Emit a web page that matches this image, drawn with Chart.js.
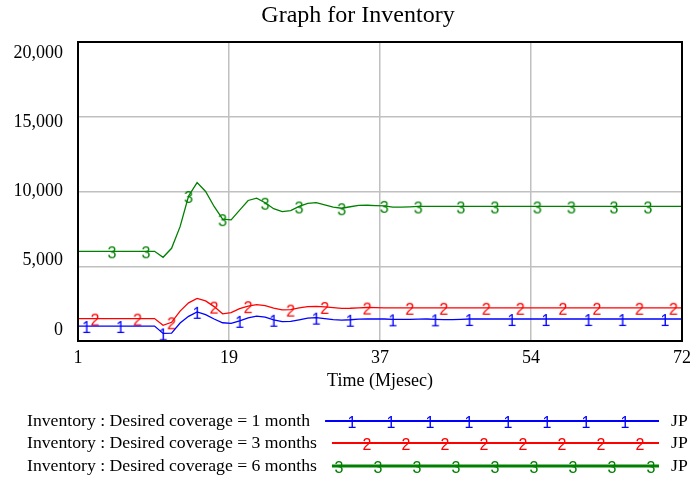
<!DOCTYPE html>
<html>
<head>
<meta charset="utf-8">
<script src="https://cdn.jsdelivr.net/npm/chart.js@4.4.1/dist/chart.umd.min.js"></script>
<style>
  html, body { margin: 0; padding: 0; background: #ffffff; }
  canvas { display: block; }
</style>
</head>
<body>
<canvas id="chart" width="697" height="481"></canvas>
<script>
// Simulation time (months)
const months = [
  1, 2, 3, 4, 5, 6, 7, 8, 9, 10, 11, 12, 13, 14, 15, 16, 17, 18,
  19, 20, 21, 22, 23, 24, 25, 26, 27, 28, 29, 30, 31, 32, 33, 34, 35, 36,
  37, 38, 39, 40, 41, 42, 43, 44, 45, 46, 47, 48, 49, 50, 51, 52, 53, 54,
  55, 56, 57, 58, 59, 60, 61, 62, 63, 64, 65, 66, 67, 68, 69, 70, 71, 72
];

// Inventory, desired coverage = 1 month
const inventory1 = [
  1000, 1000, 1000, 1000, 1000, 1000, 1000, 1000, 1000, 1000,
  510, 530, 1200, 1650, 1950, 1760, 1470, 1220, 1180, 1350,
  1550, 1660, 1590, 1420, 1300, 1310, 1420, 1530, 1560, 1500,
  1430, 1400, 1420, 1460, 1480, 1470, 1470, 1450, 1440, 1450,
  1460, 1470, 1450, 1430, 1430, 1450, 1470, 1470, 1470, 1470,
  1470, 1470, 1470, 1470, 1470, 1470, 1470, 1470, 1470, 1470,
  1470, 1470, 1470, 1470, 1470, 1470, 1470, 1470, 1470, 1470,
  1470, 1470
];

// Inventory, desired coverage = 3 months
const inventory3 = [
  1500, 1500, 1500, 1500, 1500, 1500, 1500, 1500, 1500, 1500,
  1050, 1250, 2000, 2550, 2850, 2680, 2300, 1820, 1900, 2170,
  2330, 2430, 2360, 2200, 2080, 2100, 2220, 2300, 2310, 2280,
  2230, 2180, 2190, 2220, 2240, 2230, 2220, 2220, 2220, 2220,
  2220, 2220, 2220, 2220, 2220, 2220, 2220, 2220, 2220, 2220,
  2220, 2220, 2220, 2220, 2220, 2220, 2220, 2220, 2220, 2220,
  2220, 2220, 2220, 2220, 2220, 2220, 2220, 2220, 2220, 2220,
  2220, 2220
];

// Inventory, desired coverage = 6 months
const inventory6 = [
  6000, 6000, 6000, 6000, 6000, 6000, 6000, 6000, 6000, 6000,
  5600, 6200, 7650, 9700, 10600, 10000, 9000, 8150, 8100, 8750,
  9400, 9550, 9250, 8850, 8650, 8720, 9000, 9200, 9250, 9100,
  8950, 8880, 8980, 9070, 9080, 9060, 9040, 8960, 8950, 8970,
  9000, 9000, 9000, 9000, 9000, 9000, 9000, 9000, 9000, 9000,
  9000, 9000, 9000, 9000, 9000, 9000, 9000, 9000, 9000, 9000,
  9000, 9000, 9000, 9000, 9000, 9000, 9000, 9000, 9000, 9000,
  9000, 9000
];

// Months at which each run carries its number marker
const marks1 = [2, 6, 11, 15, 20, 24, 29, 33, 38, 43, 47, 52, 56, 61, 65, 70];
const marks3 = [3, 8, 12, 17, 21, 26, 30, 35, 40, 44, 49, 53, 58, 62, 67, 71];
const marks6 = [5, 9, 14, 18, 23, 27, 32, 37, 41, 46, 50, 55, 59, 64, 68];

// Axis ticks
const xTicks = [1, 18.75, 36.5, 54.25, 72];
const xTickLabels = ['1', '19', '37', '54', '72'];
const yTicks = [0, 5000, 10000, 15000, 20000];
const yTickLabels = ['0', '5,000', '10,000', '15,000', '20,000'];

const runLabels = [
  'Inventory : Desired coverage = 1 month',
  'Inventory : Desired coverage = 3 months',
  'Inventory : Desired coverage = 6 months'
];
const unitLabel = 'JP';
const chartTitle = 'Graph for Inventory';

const SERIF = '"Liberation Serif", "Times New Roman", serif';
const SANS = '"Liberation Sans", Arial, sans-serif';

// Small canvas holding a run number, used as the point marker
function makeGlyph(ch, color) {
  const c = document.createElement('canvas');
  c.width = 14;
  c.height = 24;
  const g = c.getContext('2d');
  g.font = '16px ' + SANS;
  g.fillStyle = color;
  g.textAlign = 'center';
  g.textBaseline = 'middle';
  g.fillText(ch, 7, 14.5);
  return c;
}

const runs = [
  { values: inventory1, marks: marks1, color: '#0000ff', glyph: '1', legendWidth: 2, legendOffset: 27 },
  { values: inventory3, marks: marks3, color: '#ff0000', glyph: '2', legendWidth: 2, legendOffset: 35 },
  { values: inventory6, marks: marks6, color: '#008000', glyph: '3', legendWidth: 3, legendOffset: 7 }
];
runs.forEach(r => { r.canvas = makeGlyph(r.glyph, r.color); });

const datasets = runs.map((r, k) => ({
  label: runLabels[k],
  data: months.map((m, i) => ({ x: m, y: r.values[i] })),
  borderColor: r.color,
  backgroundColor: r.color,
  borderWidth: 1.3,
  fill: false,
  tension: 0,
  clip: false,
  pointRadius: ctx => (r.marks.includes(months[ctx.dataIndex]) ? 4 : 0),
  pointHoverRadius: 0,
  pointStyle: ctx => (r.marks.includes(months[ctx.dataIndex]) ? r.canvas : 'circle')
}));

// Title, y labels, plot frame and the run legend
const decorations = {
  id: 'decorations',
  afterDraw(chart) {
    const ctx = chart.ctx;
    const a = chart.chartArea;
    const ys = chart.scales.y;

    ctx.save();
    // frame round the plot
    ctx.strokeStyle = '#000000';
    ctx.lineWidth = 2;
    ctx.strokeRect(a.left, a.top, a.right - a.left, a.bottom - a.top);

    // title
    ctx.fillStyle = '#000000';
    ctx.font = '24px ' + SERIF;
    ctx.textAlign = 'center';
    ctx.textBaseline = 'middle';
    ctx.fillText(chartTitle, 358, 16);

    // y tick labels, pulled slightly toward the middle of the axis
    ctx.font = '18px ' + SERIF;
    ctx.textAlign = 'right';
    const mid = (a.top + a.bottom) / 2;
    yTicks.forEach((v, i) => {
      const py = ys.getPixelForValue(v);
      ctx.fillText(yTickLabels[i], a.left - 15, mid + (py - mid) * 0.926);
    });

    // legend rows
    const rowY = [421, 443, 466];
    const lineEnd = 659;
    ctx.font = '17.7px ' + SERIF;
    runs.forEach((r, k) => {
      const y = rowY[k];
      ctx.textAlign = 'left';
      ctx.textBaseline = 'middle';
      ctx.fillStyle = '#000000';
      ctx.fillText(runLabels[k], 27, y);
      const x0 = 27 + ctx.measureText(runLabels[k]).width + 15;
      ctx.strokeStyle = r.color;
      ctx.lineWidth = r.legendWidth;
      ctx.beginPath();
      ctx.moveTo(x0, y);
      ctx.lineTo(lineEnd, y);
      ctx.stroke();
      for (let x = x0 + r.legendOffset; x <= lineEnd - 4; x += 39) {
        ctx.drawImage(r.canvas, Math.round(x - r.canvas.width / 2), Math.round(y - r.canvas.height / 2));
      }
      ctx.fillStyle = '#000000';
      ctx.fillText(unitLabel, 671, y);
    });
    ctx.restore();
  }
};

new Chart(document.getElementById('chart'), {
  type: 'line',
  data: { datasets },
  plugins: [decorations],
  options: {
    responsive: false,
    animation: false,
    events: [],
    layout: { padding: { top: 42, right: 11, bottom: 81, left: 0 } },
    plugins: {
      legend: { display: false },
      tooltip: { enabled: false },
      title: { display: false }
    },
    scales: {
      x: {
        type: 'linear',
        min: 1,
        max: 72,
        afterBuildTicks: s => { s.ticks = xTicks.map(v => ({ value: v })); },
        afterFit: s => { s.height = 59; },
        grid: { color: '#c0c0c0', lineWidth: 1.5, drawTicks: false },
        border: { display: false },
        ticks: {
          autoSkip: false,
          maxRotation: 0,
          padding: 6,
          color: '#000000',
          font: { family: SERIF, size: 18 },
          callback: (v, i) => xTickLabels[i]
        },
        title: {
          display: true,
          text: 'Time (Mjesec)',
          color: '#000000',
          font: { family: SERIF, size: 18 },
          padding: { top: 0, bottom: 8 }
        }
      },
      y: {
        type: 'linear',
        min: 0,
        max: 20000,
        afterBuildTicks: s => { s.ticks = yTicks.map(v => ({ value: v })); },
        afterFit: s => { s.width = 78; },
        grid: { color: '#c0c0c0', lineWidth: 1.5, drawTicks: false },
        border: { display: false },
        ticks: { display: false }
      }
    }
  }
});
</script>
</body>
</html>
